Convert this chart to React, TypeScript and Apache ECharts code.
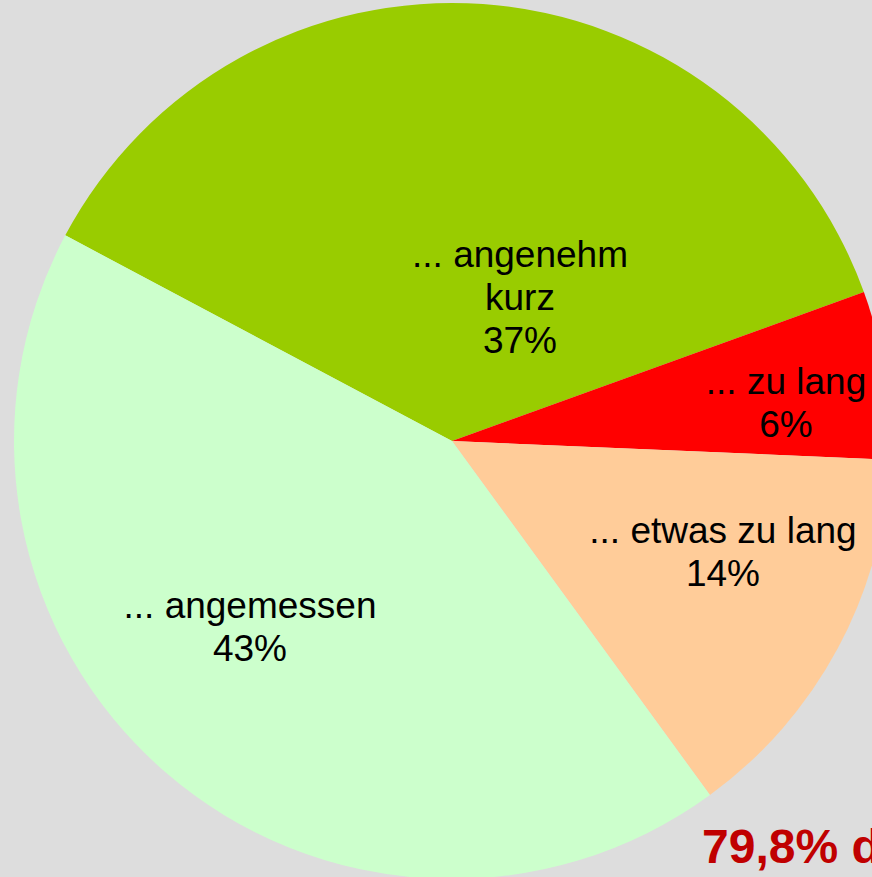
import React, { useEffect, useRef } from "react";
import * as echarts from "echarts";

const categories = ["... angenehm\nkurz", "... zu lang", "... etwas zu lang", "... angemessen"];
const values = [36.7, 6.2, 14.3, 42.8];
const colors = ["#99cc00", "#ff0000", "#ffcc99", "#ccffcc"];
const labelPos = [
  [520, 297],
  [786, 403],
  [723, 552],
  [250, 627],
];
const noteText = "79,8% d";

export default function App() {
  const ref = useRef<HTMLDivElement>(null);
  useEffect(() => {
    if (!ref.current) return;
    const chart = echarts.init(ref.current, null, { renderer: "svg" });
    chart.setOption({
      animation: false,
      backgroundColor: "#dddddd",
      series: [
        {
          type: "pie",
          center: [452, 441],
          radius: 438,
          startAngle: 152,
          clockwise: true,
          silent: true,
          emphasis: { disabled: true },
          data: categories.map((c, i) => ({
            name: c,
            value: values[i],
            itemStyle: { color: colors[i] },
          })),
          label: {
            show: true,
            position: "inside",
            formatter: (p: any) => `${p.name}\n${Math.round(p.percent)}%`,
            fontFamily: "Liberation Sans, Arial, sans-serif",
            fontSize: 37,
            lineHeight: 43,
            color: "#000000",
            align: "center",
          },
          labelLine: { show: false },
          labelLayout: (params: any) => {
            const p = labelPos[params.dataIndex];
            return { x: p[0], y: p[1], align: "center", verticalAlign: "middle" };
          },
        },
      ],
      graphic: [
        {
          type: "text",
          x: 702,
          y: 846,
          style: {
            text: noteText,
            fill: "#c00000",
            font: "bold 48px 'Liberation Sans', Arial, sans-serif",
            verticalAlign: "middle",
            align: "left",
          },
        },
      ],
    });
    return () => chart.dispose();
  }, []);
  return (
    <div
      ref={ref}
      style={{ position: "fixed", left: 0, top: 0, width: 872, height: 877 }}
    />
  );
}
